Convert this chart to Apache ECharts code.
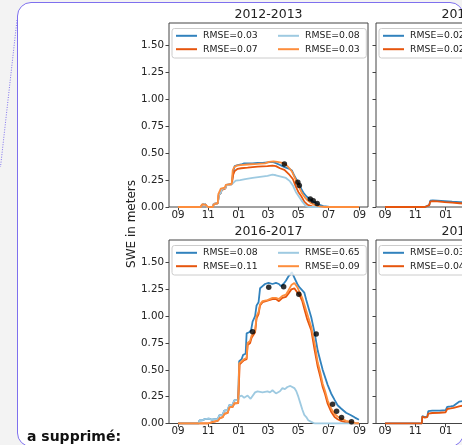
<!DOCTYPE html>
<html>
<head>
<meta charset="utf-8">
<script src="https://cdn.jsdelivr.net/npm/echarts@6.0.0/dist/echarts.min.js"></script>
<style>
  html, body { margin: 0; padding: 0; }
  body { width: 462px; height: 445px; overflow: hidden; position: relative; background: #f3f3f3; font-family: "DejaVu Sans", sans-serif; }
  #box { position: absolute; left: 16.5px; top: 2px; width: 447px; height: 445px; border: 1px solid #7e70ee; border-radius: 14px; background: #fff; box-sizing: border-box; }
  #link { position: absolute; left: 0; top: 0; }
  #chart { position: absolute; left: 0; top: 0; width: 640px; height: 445px; }
  #note { position: absolute; left: 27px; top: 428px; font-weight: bold; font-size: 14px; color: #111; white-space: nowrap; }
</style>
</head>
<body>
<svg id="link" width="20" height="170"><line x1="17" y1="20" x2="0.5" y2="167" stroke="#7e70ee" stroke-width="1" stroke-dasharray="1 1.5"/></svg>
<div id="box"></div>
<div id="chart"></div>
<div id="note">a supprimé:</div>
<script>
// x = days since 1 September, y = SWE in meters
const monthDays = [0, 61, 122, 181, 242, 303, 365];
const monthLabels = ['09', '11', '01', '03', '05', '07', '09'];
const sweTicks = [0, 0.25, 0.5, 0.75, 1.0, 1.25, 1.5];

const panelTitles = ['2012-2013', '2013-2014', '2016-2017', '2017-2018'];
const rmse1213 = ['RMSE=0.03', 'RMSE=0.07', 'RMSE=0.08', 'RMSE=0.03'];
const rmse1314 = ['RMSE=0.02', 'RMSE=0.02'];
const rmse1617 = ['RMSE=0.08', 'RMSE=0.11', 'RMSE=0.65', 'RMSE=0.09'];
const rmse1718 = ['RMSE=0.03', 'RMSE=0.04'];

// 2012-2013
const blue1213 = [[0,0],[46,0],[48,0.02],[54,0.03],[58,0],[70,0],[72,0.03],[80,0.035],[82,0.11],[86,0.13],[88,0.165],[95,0.175],[97,0.205],[108,0.215],[111,0.33],[114,0.38],[120,0.39],[127,0.395],[133,0.405],[150,0.405],[160,0.41],[170,0.41],[180,0.415],[190,0.42],[196,0.41],[203,0.395],[210,0.38],[217,0.365],[224,0.355],[229,0.34],[234,0.29],[240,0.24],[246,0.185],[252,0.135],[258,0.1],[266,0.07],[274,0.045],[282,0.025],[292,0.008],[305,0],[364,0]];
const red1213 = [[0,0],[46,0],[48,0.02],[54,0.03],[58,0],[70,0],[72,0.03],[80,0.035],[82,0.11],[86,0.13],[88,0.16],[95,0.17],[97,0.2],[108,0.21],[111,0.3],[114,0.335],[120,0.355],[127,0.36],[140,0.365],[160,0.375],[180,0.38],[190,0.385],[193,0.39],[197,0.38],[205,0.36],[214,0.345],[224,0.3],[231,0.26],[237,0.19],[242,0.14],[248,0.1],[254,0.05],[261,0.02],[270,0.005],[278,0],[364,0]];
const lightBlue1213 = [[0,0],[46,0],[48,0.02],[54,0.03],[58,0],[70,0],[72,0.03],[80,0.035],[82,0.11],[86,0.13],[88,0.165],[95,0.175],[97,0.2],[108,0.21],[111,0.225],[116,0.245],[125,0.25],[135,0.26],[150,0.27],[165,0.28],[180,0.29],[190,0.3],[197,0.295],[205,0.285],[217,0.27],[225,0.24],[231,0.2],[237,0.14],[244,0.09],[250,0.05],[257,0.01],[262,0],[364,0]];
const orange1213 = [[0,0],[46,0],[48,0.025],[52,0.035],[56,0.02],[60,0],[70,0],[72,0.025],[80,0.035],[81,0.12],[84,0.15],[86,0.17],[94,0.18],[96,0.205],[108,0.215],[110,0.34],[113,0.37],[118,0.385],[125,0.39],[140,0.395],[160,0.4],[175,0.405],[183,0.42],[187,0.43],[192,0.425],[200,0.42],[210,0.41],[218,0.39],[224,0.36],[229,0.33],[234,0.28],[239,0.23],[244,0.18],[249,0.13],[255,0.09],[261,0.06],[268,0.035],[276,0.018],[285,0.006],[295,0],[364,0]];
const obsDays1213 = [214, 241, 244, 266, 272, 280];
const obsSwe1213 = [0.40, 0.23, 0.20, 0.075, 0.058, 0.033];

// 2013-2014 (only the start is visible)
const blue1314 = [[0,0],[25,0],[27,0.008],[30,0],[55,0],[57,0.01],[60,0],[80,0],[83,0.015],[89,0.018],[91,0.058],[96,0.062],[105,0.06],[120,0.055],[135,0.05],[150,0.046],[165,0.042]];
const red1314 = [[0,0],[25,0],[27,0.008],[30,0],[55,0],[57,0.01],[60,0],[80,0],[83,0.015],[89,0.018],[91,0.05],[96,0.055],[105,0.052],[120,0.045],[135,0.04],[150,0.035],[165,0.03]];

// 2016-2017
const blue1617 = [[0,0],[42,0],[43,0.03],[48,0.03],[50,0.015],[54,0.04],[58,0.03],[62,0.045],[68,0.035],[74,0.04],[80,0.04],[83,0.075],[90,0.08],[93,0.12],[100,0.125],[103,0.17],[110,0.175],[113,0.215],[121,0.22],[123,0.58],[128,0.6],[131,0.64],[136,0.65],[138,0.84],[143,0.85],[147,0.87],[150,0.95],[155,1.0],[158,1.1],[162,1.13],[165,1.26],[170,1.28],[175,1.3],[182,1.31],[190,1.3],[197,1.31],[203,1.3],[207,1.28],[212,1.3],[217,1.33],[222,1.37],[226,1.39],[229,1.41],[234,1.36],[240,1.3],[244,1.27],[250,1.24],[254,1.22],[258,1.15],[263,1.07],[268,0.99],[275,0.84],[281,0.68],[286,0.59],[291,0.5],[296,0.43],[301,0.36],[308,0.28],[315,0.22],[321,0.17],[328,0.14],[338,0.1],[348,0.077],[356,0.055],[364,0.035]];
const red1617 = [[0,0],[60,0],[62,0.01],[70,0.015],[75,0.02],[80,0.025],[84,0.05],[90,0.06],[93,0.09],[100,0.1],[103,0.15],[110,0.155],[113,0.185],[121,0.19],[124,0.55],[128,0.57],[133,0.59],[138,0.6],[140,0.73],[145,0.75],[148,0.8],[155,0.85],[158,0.98],[162,1.02],[165,1.1],[170,1.13],[180,1.145],[190,1.16],[197,1.16],[203,1.14],[210,1.17],[217,1.18],[222,1.21],[228,1.25],[234,1.26],[240,1.22],[244,1.2],[250,1.14],[254,1.07],[260,0.97],[268,0.87],[275,0.68],[281,0.53],[286,0.44],[291,0.34],[296,0.27],[301,0.185],[308,0.11],[315,0.06],[321,0.04],[328,0.025],[338,0.01],[348,0],[364,0]];
const lightBlue1617 = [[0,0],[42,0],[43,0.03],[48,0.03],[50,0.015],[54,0.04],[58,0.03],[62,0.045],[68,0.035],[74,0.04],[80,0.04],[83,0.075],[90,0.08],[93,0.12],[100,0.125],[103,0.17],[110,0.175],[113,0.215],[121,0.22],[123,0.25],[128,0.26],[133,0.24],[140,0.26],[146,0.23],[150,0.24],[155,0.29],[160,0.3],[170,0.29],[180,0.3],[185,0.29],[190,0.31],[197,0.28],[205,0.3],[210,0.33],[215,0.32],[220,0.34],[226,0.35],[230,0.36],[234,0.33],[238,0.3],[242,0.25],[246,0.19],[250,0.13],[254,0.08],[258,0.06],[262,0.03],[268,0.015],[275,0],[364,0]];
const orange1617 = [[0,0],[60,0],[62,0.01],[75,0.02],[80,0.025],[84,0.05],[90,0.06],[93,0.09],[100,0.1],[103,0.15],[110,0.155],[113,0.19],[121,0.19],[123,0.56],[128,0.58],[133,0.6],[138,0.61],[140,0.75],[145,0.77],[148,0.82],[155,0.86],[158,1.0],[162,1.04],[165,1.11],[170,1.14],[180,1.15],[190,1.17],[197,1.17],[203,1.16],[210,1.19],[217,1.2],[222,1.24],[228,1.29],[234,1.31],[240,1.27],[244,1.23],[250,1.17],[254,1.11],[260,1.02],[268,0.9],[275,0.74],[281,0.57],[286,0.48],[291,0.37],[296,0.3],[301,0.216],[308,0.14],[315,0.09],[321,0.065],[328,0.046],[338,0.025],[348,0.015],[356,0.005],[364,0]];
const obsDays1617 = [150, 182.5, 212.5, 243, 278, 311, 319, 329, 349];
const obsSwe1617 = [0.855, 1.27, 1.275, 1.205, 0.835, 0.18, 0.115, 0.056, 0.017];

// 2017-2018 (only the start is visible)
const blue1718 = [[0,0],[20,0],[22,0.006],[25,0],[47,0],[49,0.006],[52,0],[74,0],[75,0.07],[78,0.075],[80,0.06],[85,0.065],[87,0.115],[95,0.12],[110,0.12],[122,0.125],[125,0.155],[132,0.16],[138,0.165],[142,0.178],[149,0.203],[160,0.21]];
const red1718 = [[0,0],[20,0],[22,0.006],[25,0],[47,0],[49,0.006],[52,0],[74,0],[75,0.065],[78,0.07],[80,0.055],[85,0.06],[87,0.093],[95,0.098],[110,0.1],[122,0.105],[125,0.135],[132,0.14],[138,0.145],[142,0.15],[149,0.16],[160,0.17]];

const lineColors = ['#3182bd', '#e6550d', '#9ecae1', '#fd8d3c'];

const panels = [
  { left: 169, top: 23, height: 184, lines: [blue1213, red1213, lightBlue1213, orange1213], rmse: rmse1213, obs: [obsDays1213, obsSwe1213], yLabels: true },
  { left: 376, top: 23, height: 184, lines: [blue1314, red1314], rmse: rmse1314, obs: null, yLabels: false },
  { left: 169, top: 240, height: 183.5, lines: [blue1617, red1617, lightBlue1617, orange1617], rmse: rmse1617, obs: [obsDays1617, obsSwe1617], yLabels: true },
  { left: 376, top: 240, height: 183.5, lines: [blue1718, red1718], rmse: rmse1718, obs: null, yLabels: false }
];

const grid = [], xAxis = [], yAxis = [], series = [], legend = [], graphic = [];
const labelOf = {};
const ink = '#222';
const spine = '#444';

panels.forEach((p, i) => {
  grid.push({ left: p.left, top: p.top, width: 199, height: p.height, show: true, borderColor: spine, borderWidth: 1, backgroundColor: 'transparent' });
  xAxis.push({
    type: 'value', gridIndex: i, min: -18.2, max: 382.2,
    axisLine: { show: false, onZero: false }, splitLine: { show: false },
    axisTick: { customValues: monthDays, length: 3.5, lineStyle: { color: spine } },
    axisLabel: { customValues: monthDays, formatter: v => monthLabels[monthDays.indexOf(v)], fontSize: 10.3, color: ink, margin: 3 }
  });
  yAxis.push({
    type: 'value', gridIndex: i, min: 0, max: 1.71,
    axisLine: { show: false, onZero: false }, splitLine: { show: false },
    axisTick: { customValues: sweTicks, length: 3.5, lineStyle: { color: spine } },
    axisLabel: { show: p.yLabels, customValues: sweTicks, formatter: v => v.toFixed(2), fontSize: 10.3, color: ink, margin: 5 }
  });

  const names = [];
  p.lines.forEach((d, k) => {
    const name = 'p' + i + 's' + k;
    labelOf[name] = p.rmse[k];
    names.push(name);
    series.push({
      name: name, type: 'line', xAxisIndex: i, yAxisIndex: i, data: d,
      showSymbol: false, symbol: 'none', color: lineColors[k],
      lineStyle: { width: 1.8, color: lineColors[k] }, silent: true, z: 2
    });
  });
  if (p.obs) {
    series.push({
      type: 'scatter', xAxisIndex: i, yAxisIndex: i,
      data: p.obs[0].map((d, j) => [d, p.obs[1][j]]),
      symbolSize: 5.5, itemStyle: { color: '#000' }, silent: true, z: 5
    });
  }

  // legend: matplotlib fills columns first
  [names.slice(0, 2), names.slice(2, 4)].forEach((col, c) => {
    if (!col.length) return;
    legend.push({
      data: col, orient: 'vertical', left: p.left + 7 + c * 102, top: p.top + 7.3,
      padding: 0, itemGap: 2.4, itemWidth: 21, itemHeight: 2, icon: 'rect',
      selectedMode: false, z: 20,
      formatter: n => labelOf[n],
      textStyle: { fontSize: 9.3, color: ink, lineHeight: 11, padding: [0, 0, 0, 1] }
    });
  });
  graphic.push({
    type: 'rect', z: 10, silent: true,
    shape: { x: p.left + 3, y: p.top + 5.5, width: 194.3, height: 29.5, r: 2.5 },
    style: { fill: 'rgba(255,255,255,0.8)', stroke: '#cccccc', lineWidth: 1 }
  });
  graphic.push({
    type: 'text', z: 20, silent: true, x: p.left + 99.5, y: p.top - 8.3,
    style: { text: panelTitles[i], font: '12.5px "DejaVu Sans"', fill: ink, textAlign: 'center', textVerticalAlign: 'middle' }
  });
});

graphic.push({
  type: 'text', z: 20, silent: true, x: 131.5, y: 224, rotation: Math.PI / 2,
  style: { text: 'SWE in meters', font: '12px "DejaVu Sans"', fill: ink, textAlign: 'center', textVerticalAlign: 'middle' }
});

const chart = echarts.init(document.getElementById('chart'), null, { renderer: 'canvas' });
chart.setOption({
  animation: false,
  textStyle: { fontFamily: 'DejaVu Sans' },
  grid: grid, xAxis: xAxis, yAxis: yAxis, legend: legend, series: series, graphic: graphic
});
</script>
</body>
</html>
